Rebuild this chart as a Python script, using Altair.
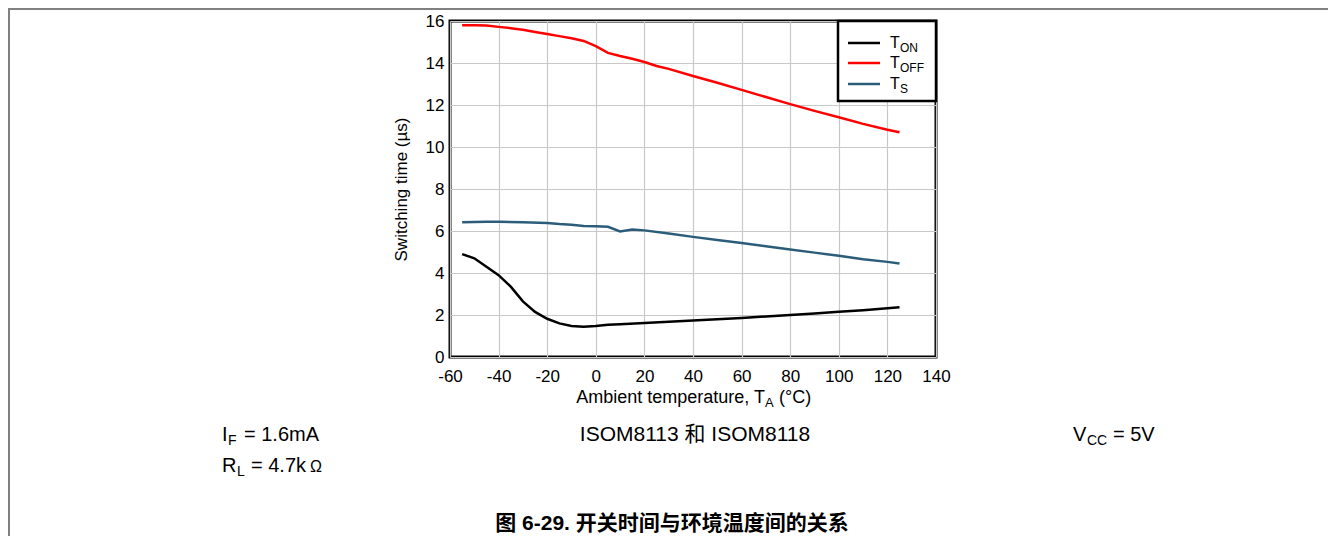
import altair as alt
import pandas as pd

# ---- data ----
ton_x = [-55, -50, -45, -40, -35, -30, -25, -20, -15, -10, -5, 0, 5, 10, 20, 30, 40, 50, 60, 70, 80, 90, 100, 110, 120, 125]
ton_y = [4.9, 4.7, 4.3, 3.9, 3.35, 2.65, 2.15, 1.82, 1.6, 1.48, 1.44, 1.48, 1.54, 1.56, 1.62, 1.68, 1.74, 1.8, 1.86, 1.93, 2.0, 2.07, 2.15, 2.23, 2.32, 2.37]

toff_x = [-55, -50, -45, -40, -35, -30, -25, -20, -15, -10, -5, 0, 5, 10, 15, 20, 25, 30, 40, 50, 60, 70, 80, 90, 100, 110, 120, 125]
toff_y = [15.8, 15.8, 15.78, 15.72, 15.66, 15.58, 15.48, 15.38, 15.28, 15.18, 15.05, 14.8, 14.48, 14.33, 14.2, 14.05, 13.86, 13.72, 13.38, 13.06, 12.72, 12.38, 12.04, 11.72, 11.42, 11.1, 10.82, 10.7]

ts_x = [-55, -45, -40, -30, -20, -15, -10, -5, 0, 5, 10, 15, 20, 30, 40, 50, 60, 70, 80, 90, 100, 110, 120, 125]
ts_y = [6.42, 6.44, 6.44, 6.42, 6.38, 6.33, 6.3, 6.24, 6.23, 6.2, 5.98, 6.07, 6.03, 5.88, 5.72, 5.57, 5.43, 5.27, 5.12, 4.97, 4.82, 4.66, 4.53, 4.45]

series_names = ["TON", "TOFF", "TS"]
series_colors = ["#000000", "#ff0000", "#2b5d7a"]
legend_main = ["T", "T", "T"]
legend_sub = ["ON", "OFF", "S"]

x_ticks = [-60, -40, -20, 0, 20, 40, 60, 80, 100, 120, 140]
y_ticks = [0, 2, 4, 6, 8, 10, 12, 14, 16]

rows = []
for name, xs, ys in [("TON", ton_x, ton_y), ("TOFF", toff_x, toff_y), ("TS", ts_x, ts_y)]:
    for xv, yv in zip(xs, ys):
        rows.append({"series": name, "temp": xv, "time": yv})
df = pd.DataFrame(rows)

W, H = 486, 336
FONT = "Liberation Sans, Arial, Noto Sans CJK SC"
dummy = pd.DataFrame({"a": [0]})

lines = alt.Chart(df).mark_line(strokeWidth=2.5, clip=True).encode(
    x=alt.X("temp:Q", scale=alt.Scale(domain=[-60, 140], nice=False),
            axis=alt.Axis(values=x_ticks, title=None, grid=True, ticks=False, domain=False,
                          labelFontSize=17, labelPadding=11, labelColor="#000",
                          labelFlush=False, labelExpr="'' + datum.value",
                          labelFont=FONT, gridColor="#c8c8c8", gridWidth=1.2)),
    y=alt.Y("time:Q", scale=alt.Scale(domain=[0, 16], nice=False),
            axis=alt.Axis(values=y_ticks, title="Switching time (µs)", grid=True, ticks=False,
                          domain=False, labelFontSize=17, labelPadding=6, labelColor="#000",
                          labelFlush=False, labelExpr="'' + datum.value",
                          labelFont=FONT, gridColor="#c8c8c8", gridWidth=1.2,
                          titleFont=FONT, titleFontSize=17, titleFontWeight="normal",
                          titleColor="#000", titlePadding=15)),
    color=alt.Color("series:N", scale=alt.Scale(domain=series_names, range=series_colors), legend=None),
    detail="series:N",
)


def txt(text, x, y, size, align="left", weight="normal", color="#000"):
    return alt.Chart(dummy).mark_text(
        text=text, align=align, baseline="alphabetic", font=FONT, fontSize=size,
        fontWeight=weight, color=color, clip=False
    ).encode(x=alt.value(x), y=alt.value(y))


layers = [lines]

# legend box
layers.append(alt.Chart(dummy).mark_rect(fill="white", stroke="#000", strokeWidth=2.5).encode(
    x=alt.value(388), x2=alt.value(486), y=alt.value(0), y2=alt.value(80)))
leg_y = [22, 42, 63]
for i in range(3):
    layers.append(alt.Chart(dummy).mark_rule(color=series_colors[i], strokeWidth=2.5).encode(
        x=alt.value(398), x2=alt.value(430), y=alt.value(leg_y[i])))
    layers.append(txt(legend_main[i], 440, leg_y[i] + 5, 16))
    layers.append(txt(legend_sub[i], 450, leg_y[i] + 9, 12))

# x-axis title with subscript
layers.append(txt("Ambient temperature, T", 315, 382, 18, align="right"))
layers.append(txt("A", 315, 386, 13))
layers.append(txt("(°C)", 329, 382, 18))

# annotations under the chart
layers.append(txt("I", -228, 420, 20))
layers.append(txt("F", -222, 424, 14))
layers.append(txt("= 1.6mA", -206, 420, 20))
layers.append(txt("R", -228, 451, 20))
layers.append(txt("L", -213, 455, 14))
layers.append(txt("= 4.7k", -199, 451, 20))
layers.append(txt("Ω", -140, 451, 16))
layers.append(txt("ISOM8113 和 ISOM8118", 245, 420, 21, align="center"))
layers.append(txt("V", 623, 420, 20))
layers.append(txt("CC", 637, 424, 14))
layers.append(txt("= 5V", 663, 420, 20))
layers.append(txt("图 6-29. 开关时间与环境温度间的关系", 222, 509, 21, align="center", weight="bold"))

# page frame (top and left)
layers.append(alt.Chart(dummy).mark_rule(color="#808080", strokeWidth=2, clip=False).encode(
    x=alt.value(-442), x2=alt.value(878), y=alt.value(-12)))
layers.append(alt.Chart(dummy).mark_rule(color="#808080", strokeWidth=2, clip=False).encode(
    x=alt.value(-441), y=alt.value(-13), y2=alt.value(515)))

chart = alt.layer(*layers).properties(
    width=W, height=H,
    autosize=alt.AutoSizeParams(type="none"),
    padding={"left": 442, "top": 13, "right": 392, "bottom": 179},
    background="white",
).configure_view(stroke="#000", strokeWidth=3)

chart.save("out.html", embed_options={"renderer": "svg", "actions": False})
